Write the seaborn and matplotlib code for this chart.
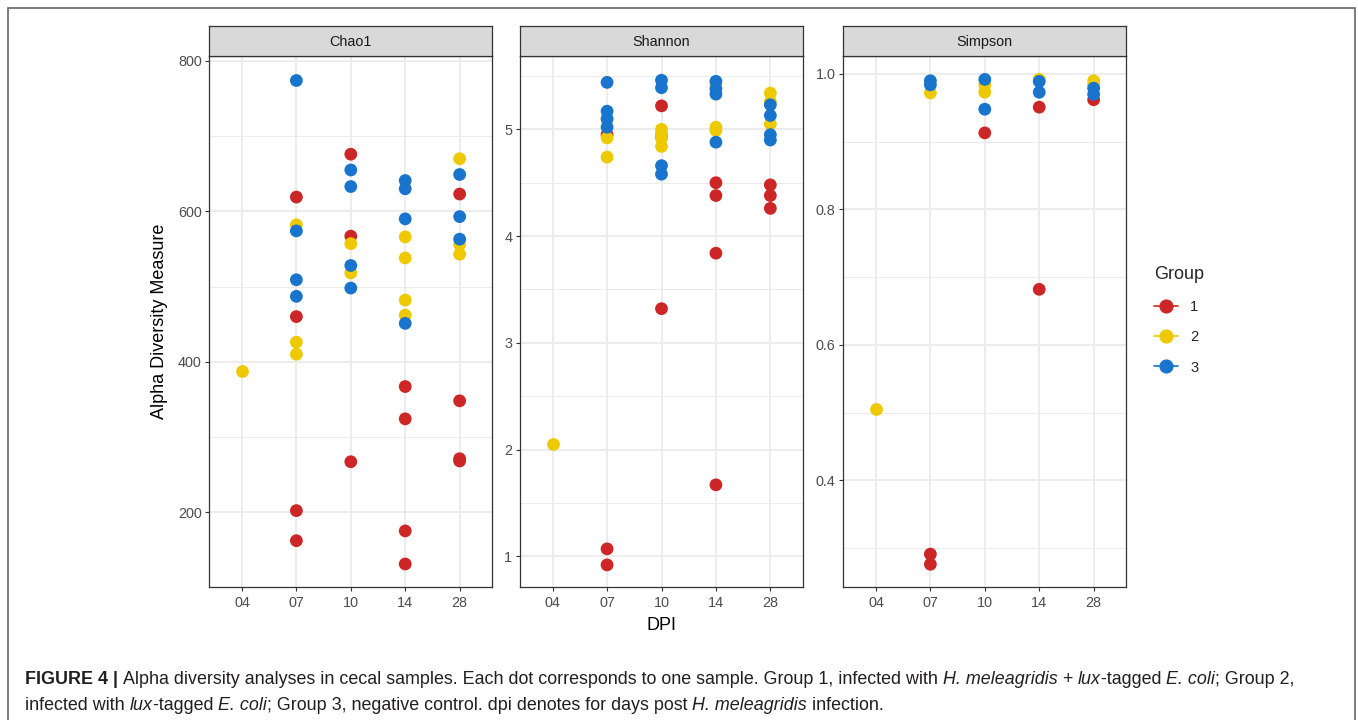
import numpy as np
import pandas as pd
import matplotlib
matplotlib.use("Agg")
import matplotlib.pyplot as plt
import seaborn as sns
from matplotlib.lines import Line2D
from matplotlib.patches import Rectangle
from matplotlib import font_manager as fm

# ---------------- data ----------------
dpi_levels = ['04', '07', '10', '14', '28']
groups = ['1', '2', '3']
group_colors = ['#CD2626', '#EEC900', '#1874CD']
metrics = ['Chao1', 'Shannon', 'Simpson']

chao1_g1 = {'07': [619, 460, 202, 162], '10': [676, 567, 267],
            '14': [367, 324, 175, 131], '28': [623, 348, 271, 268]}
chao1_g2 = {'04': [388], '07': [582, 426, 410], '10': [557, 518],
            '14': [566, 538, 482, 462], '28': [670, 556, 543]}
chao1_g3 = {'07': [774, 574, 509, 487], '10': [655, 633, 528, 498],
            '14': [641, 630, 590, 451], '28': [649, 593, 563]}

shannon_g1 = {'07': [4.95, 1.07, 0.92], '10': [5.22, 4.93, 3.32],
              '14': [4.50, 4.38, 3.84, 1.67], '28': [4.48, 4.38, 4.26]}
shannon_g2 = {'04': [2.05], '07': [5.09, 4.92, 4.74], '10': [5.00, 4.96, 4.92, 4.84],
              '14': [5.42, 5.02, 4.99], '28': [5.34, 5.26, 5.05]}
shannon_g3 = {'07': [5.44, 5.17, 5.10, 5.02], '10': [5.46, 5.39, 4.66, 4.58],
              '14': [5.45, 5.38, 5.33, 4.88], '28': [5.23, 5.13, 4.95, 4.90]}

simpson_g1 = {'07': [0.291, 0.276], '10': [0.913], '14': [0.951, 0.682], '28': [0.962]}
simpson_g2 = {'04': [0.506], '07': [0.972], '10': [0.984, 0.973], '14': [0.992],
              '28': [0.990, 0.984]}
simpson_g3 = {'07': [0.990, 0.984], '10': [0.992, 0.948], '14': [0.989, 0.973],
              '28': [0.979, 0.970]}

metric_data = {
    'Chao1': [chao1_g1, chao1_g2, chao1_g3],
    'Shannon': [shannon_g1, shannon_g2, shannon_g3],
    'Simpson': [simpson_g1, simpson_g2, simpson_g3],
}

y_limits = {'Chao1': (100, 807), 'Shannon': (0.71, 5.69), 'Simpson': (0.242, 1.027)}
y_major = {'Chao1': [200, 400, 600, 800], 'Shannon': [1, 2, 3, 4, 5],
           'Simpson': [0.4, 0.6, 0.8, 1.0]}
y_minor = {'Chao1': [100, 300, 500, 700], 'Shannon': [1.5, 2.5, 3.5, 4.5, 5.5],
           'Simpson': [0.3, 0.5, 0.7, 0.9]}
y_fmt = {'Chao1': '{:.0f}', 'Shannon': '{:.0f}', 'Simpson': '{:.1f}'}

# caption segments: (text, style) with style in {'b', 'n', 'i'}
caption_line1 = [("FIGURE 4 | ", 'b'),
                 ("Alpha diversity analyses in cecal samples. Each dot corresponds to one sample. "
                  "Group 1, infected with ", 'n'),
                 ("H. meleagridis", 'i'), (" + ", 'n'), ("lux", 'i'), ("-tagged ", 'n'),
                 ("E. coli", 'i'), ("; Group 2,", 'n')]
caption_line2 = [("infected with ", 'n'), ("lux", 'i'), ("-tagged ", 'n'), ("E. coli", 'i'),
                 ("; Group 3, negative control. dpi denotes for days post ", 'n'),
                 ("H. meleagridis", 'i'), (" infection.", 'n')]

rows = []
for m in metrics:
    for g, d in zip(groups, metric_data[m]):
        for dpi, vals in d.items():
            for v in vals:
                rows.append({'Metric': m, 'DPI': dpi, 'Group': g, 'Value': v})
df = pd.DataFrame(rows)

# ---------------- style ----------------
sns.set_theme(style='white')


def has_font(name):
    try:
        fm.findfont(fm.FontProperties(family=name), fallback_to_default=False)
        return True
    except Exception:
        return False


base_font = 'Liberation Sans'
cap_font = 'Liberation Sans Narrow' if has_font('Liberation Sans Narrow') else 'Liberation Sans'
plt.rcParams['font.family'] = [base_font, 'DejaVu Sans']

W, H = 1358, 720
fig = plt.figure(figsize=(W / 100, H / 100), dpi=100)
fig.patch.set_facecolor('white')


def fx(px):
    return px / W


def fy(py):
    return 1 - py / H


panel_lefts = [209.3, 520.0, 843.3]
panel_w = 283.0
panel_top, panel_bot = 55.7, 587.3
strip_top = 26.0
grid_c = '#EBEBEB'
dark = '#333333'
palette = dict(zip(groups, group_colors))
tick_fs = 10.4

for m, left in zip(metrics, panel_lefts):
    ax = fig.add_axes([fx(left), fy(panel_bot), fx(panel_w), (panel_bot - panel_top) / H])
    sub = df[df['Metric'] == m]
    sns.stripplot(data=sub, x='DPI', y='Value', hue='Group', order=dpi_levels,
                  hue_order=groups, palette=palette, jitter=False, dodge=False,
                  size=9.2, linewidth=0, legend=False, ax=ax, zorder=3)
    ax.set_xlim(-0.6, 4.6)
    ax.set_ylim(*y_limits[m])
    ax.set_yticks(y_major[m])
    ax.set_yticklabels([y_fmt[m].format(t) for t in y_major[m]])
    ax.set_yticks(y_minor[m], minor=True)
    ax.set_xticks(range(len(dpi_levels)))
    ax.set_xticklabels(dpi_levels)
    ax.grid(False)
    for t in y_minor[m]:
        ax.axhline(t, color=grid_c, lw=0.7, zorder=0)
    for t in y_major[m]:
        ax.axhline(t, color=grid_c, lw=1.3, zorder=0)
    for i in range(len(dpi_levels)):
        ax.axvline(i, color=grid_c, lw=1.3, zorder=0)
    ax.set_xlabel('')
    ax.set_ylabel('')
    for s in ax.spines.values():
        s.set_color(dark)
        s.set_linewidth(0.9)
        s.set_visible(True)
    ax.tick_params(axis='both', which='major', length=3, width=0.8, color=dark,
                   labelcolor='#4D4D4D', labelsize=tick_fs, pad=2.5, direction='out',
                   bottom=True, left=True)
    ax.tick_params(axis='y', which='minor', length=0)
    ax.tick_params(axis='x', pad=3.5)
    # strip
    sax = fig.add_axes([fx(left), fy(panel_top), fx(panel_w), (panel_top - strip_top) / H])
    sax.set_facecolor('#D9D9D9')
    sax.set_xticks([])
    sax.set_yticks([])
    for s in sax.spines.values():
        s.set_color(dark)
        s.set_linewidth(0.9)
    sax.text(0.5, 0.47, m, ha='center', va='center', fontsize=tick_fs, color='#1A1A1A',
             transform=sax.transAxes)

# axis titles
fig.text(fx(160), fy(321.5), 'Alpha Diversity Measure', rotation=90, ha='center',
         va='center', fontsize=13, color='black')
fig.text(fx(661.6), fy(626), 'DPI', ha='center', va='center', fontsize=13, color='black')

# legend
handles = [Line2D([0], [0], color=c, marker='o', markersize=9.2, lw=1.2) for c in group_colors]
leg = fig.legend(handles, groups, title='Group', loc='upper left',
                 bbox_to_anchor=(fx(1154), fy(266)), frameon=False, fontsize=10.6,
                 title_fontsize=13, handlelength=1.6, handletextpad=0.85,
                 labelspacing=1.12, borderpad=0, borderaxespad=0, alignment='left')
leg._legend_box.sep = 12

# frame around the figure
fig.add_artist(Rectangle((fx(8), -0.05), fx(1355 - 8), fy(8) + 0.05, transform=fig.transFigure,
                         fill=False, edgecolor='#666666', linewidth=1.2))

# caption, drawn as consecutive text segments
renderer = fig.canvas.get_renderer()
cap_color = '#231F20'


def seg_props(style, size):
    return dict(fontsize=size, color=cap_color, family=[cap_font, 'DejaVu Sans'],
                fontweight='bold' if style == 'b' else 'normal',
                fontstyle='italic' if style == 'i' else 'normal')


def text_width(s, style, size):
    probe = fig.text(0, 0, s + '|', **seg_props(style, size))
    bar = fig.text(0, 0, '|', **seg_props(style, size))
    w = probe.get_window_extent(renderer).width - bar.get_window_extent(renderer).width
    probe.remove()
    bar.remove()
    return w


def line_width(segs, size):
    return sum(text_width(s, st, size) for s, st in segs)


base_size = 10.5
target = 1305 - 25
cap_size = base_size * target / line_width(caption_line1, base_size)


def draw_line(segs, x0, ypx, size):
    x = x0
    for s, st in segs:
        fig.text(fx(x), fy(ypx), s, ha='left', va='baseline', **seg_props(st, size))
        x += text_width(s, st, size)


draw_line(caption_line1, 25, 684, cap_size)
draw_line(caption_line2, 25, 710, cap_size)

fig.savefig('out.png', dpi=100, facecolor='white')
